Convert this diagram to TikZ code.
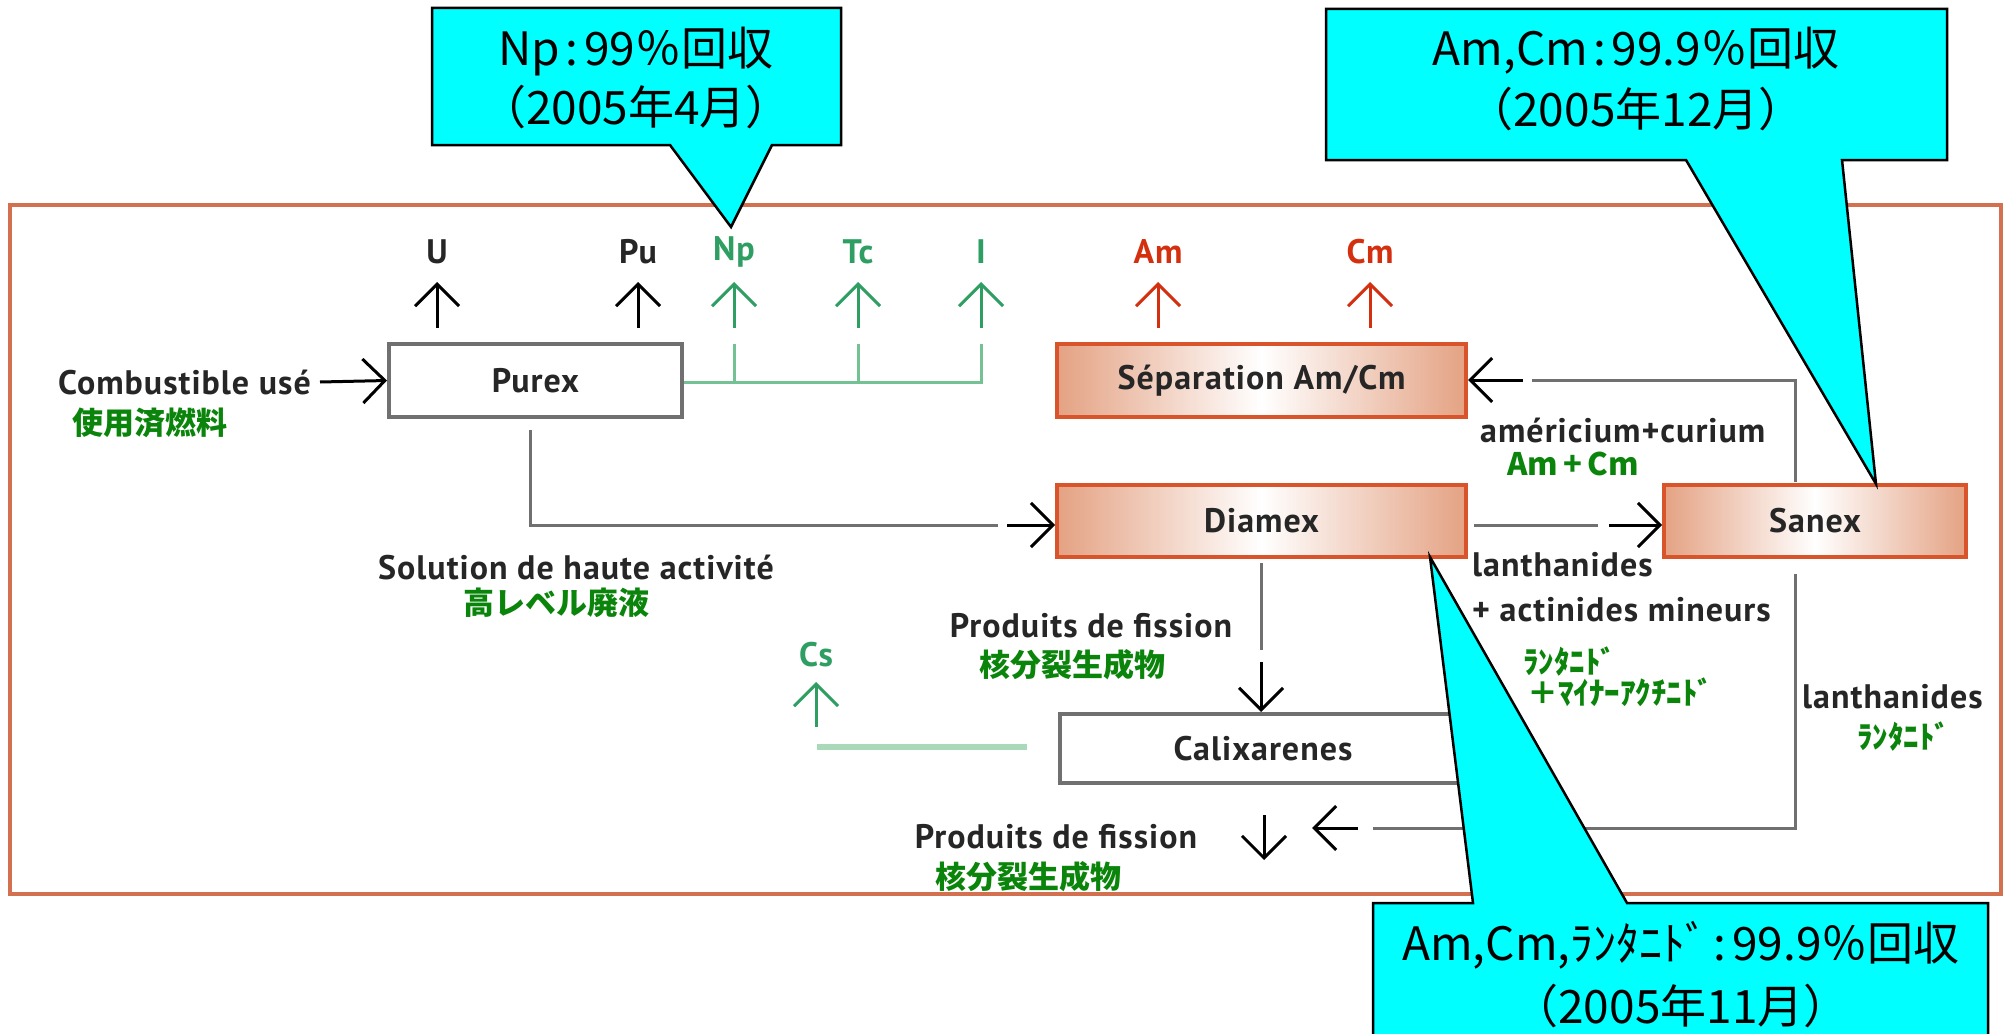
\documentclass[tikz,border=0pt]{standalone}
\usepackage{fontspec}
\setmainfont{PT Sans}
\newfontfamily\lblf{PT Sans}[LetterSpace=3]
\newfontfamily\jp{Noto Sans CJK JP}
\usetikzlibrary{arrows.meta}
\definecolor{frameC}{HTML}{D2704F}
\definecolor{boxO}{HTML}{D9532B}
\definecolor{salmonC}{HTML}{E4A283}
\definecolor{grayL}{HTML}{707070}
\definecolor{jgreen}{HTML}{0A840A}
\definecolor{lgreen}{HTML}{2E9E62}
\definecolor{pgreen}{HTML}{74C294}
\definecolor{cline}{HTML}{A9D9B9}
\definecolor{redC}{HTML}{D4300F}
\definecolor{cyanC}{HTML}{00FFFF}
\begin{document}
\begin{tikzpicture}[x=1pt,y=-1pt,
  lbl/.style={font=\lblf\bfseries\fontsize{34}{40}\selectfont, text=black!85, inner sep=0pt},
  jlbl/.style={font=\jp\bfseries\fontsize{31}{36}\selectfont, text=jgreen, inner sep=0pt},
  clbl/.style={font=\jp\fontsize{46}{52}\selectfont, inner sep=0pt},
  gbox/.style={draw=grayL, line width=4pt, fill=white, inner sep=0pt, text=black!85, font=\lblf\bfseries\fontsize{34}{40}\selectfont},
  obox/.style={draw=boxO, line width=4pt, left color=salmonC, right color=salmonC, middle color=white, inner sep=0pt, text=black!85, font=\lblf\bfseries\fontsize{34}{40}\selectfont},
  flow/.style={draw=grayL, line width=3pt},
  arr/.style={line width=3pt, -{Straight Barb[length=22pt,width=44pt]}},
  call/.style={draw=black, line width=2.5pt, fill=cyanC, line join=miter}]
\useasboundingbox (0,0) rectangle (2009,1033);
\fill[white] (0,0) rectangle (2009,1033);
% frame
\draw[frameC, line width=4pt] (10,205) rectangle (2001,894);

% boxes
\node[gbox, minimum width=293pt, minimum height=73pt] (purex) at (535.5,380.5) {Purex};
\node[obox, minimum width=409pt, minimum height=73pt] (sep) at (1261.5,380.5) {Séparation Am/Cm};
\node[obox, minimum width=409pt, minimum height=72pt] (diamex) at (1261.5,521) {Diamex};
\node[obox, minimum width=302pt, minimum height=72pt] (sanex) at (1815,521) {Sanex};
\node[gbox, minimum width=406pt, minimum height=69pt] (calix) at (1263,748.5) {Calixarenes};

% top labels
\node[lbl] (lU) at (437,252) {U};
\node[lbl] (lPu) at (638,252) {Pu};
\node[lbl, text=lgreen] (lNp) at (734,252) {Np};
\node[lbl, text=lgreen] (lTc) at (858,252) {Tc};
\node[lbl, text=lgreen] (lI) at (981,252) {I};
\node[lbl, text=redC] (lAm) at (1158,252) {Am};
\node[lbl, text=redC] (lCm) at (1370,252) {Cm};

% up arrows
\draw[arr] (437,328) -- (437,282);
\draw[arr] (638,328) -- (638,282);
\draw[arr, lgreen] (734,328) -- (734,282);
\draw[arr, lgreen] (858,328) -- (858,282);
\draw[arr, lgreen] (981,328) -- (981,282);
\draw[arr, redC] (1158,328) -- (1158,282);
\draw[arr, redC] (1370,328) -- (1370,282);

% green branch from Purex
\coordinate (gEnd) at (981,382);
\draw[pgreen, line width=3pt] (purex.east |- gEnd) -- (gEnd) -- (981,344);
\draw[pgreen, line width=3pt] (734,382) -- (734,344);
\draw[pgreen, line width=3pt] (858,382) -- (858,344);

% Combustible usé
\node[lbl, anchor=east] (comb) at (311,382) {Combustible usé};
\node[jlbl] (combj) at (150,423) {使用済燃料};
\draw[arr] (comb.east) ++(9,0) coordinate (cA) -- (purex.west);

% Purex -> Diamex
\coordinate (pd1) at (530,430);
\coordinate (pd2) at (998,525);
\coordinate (pd3) at (1007,525);
\draw[flow] (pd1) |- (pd2);
\draw[arr] (pd3) -- (diamex.west |- pd3);
\node[lbl] (sol) at (576,567) {Solution de haute activité};
\node[jlbl] (solj) at (556,603) {高レベル廃液};

% Diamex -> Sanex
\coordinate (ds1) at (1474,525);
\coordinate (ds2) at (1598,525);
\coordinate (ds3) at (1609,525);
\draw[flow] (ds1) -- (ds2);
\draw[arr] (ds3) -- (sanex.west |- ds3);
\node[lbl, anchor=west] (lan1) at (1472,565) {lanthanides};
\node[lbl, anchor=west] (lan2) at (1472,610) {+ actinides mineurs};
\node[jlbl, anchor=west] (lanj1) at (1523,662) {ﾗﾝﾀﾆﾄﾞ};
\node[jlbl, anchor=west] (lanj2) at (1527,692) {＋ﾏｲﾅｰｱｸﾁﾆﾄﾞ};

% Sanex -> Separation
\coordinate (ss1) at (1795,482);
\coordinate (ss2) at (1532,380);
\coordinate (ss3) at (1523,380);
\draw[flow] (ss1) |- (ss2);
\draw[arr] (ss3) -- (sep.east |- ss3);
\node[lbl, anchor=west] (amcu) at (1480,430) {américium+curium};
\node[jlbl] (amcuj) at (1573,464) {Am\,+\,Cm};

% Sanex -> down
\coordinate (sd1) at (1795,574);
\coordinate (sd2) at (1373,828);
\coordinate (sd3) at (1358,828);
\coordinate (sd4) at (1312,828);
\draw[flow] (sd1) |- (sd2);
\draw[arr] (sd3) -- (sd4);
\node[lbl, anchor=west] (lan3) at (1802,697) {lanthanides};
\node[jlbl, anchor=west] (lanj3) at (1857,737) {ﾗﾝﾀﾆﾄﾞ};

% Diamex -> Calixarenes
\coordinate (dc1) at (1261,563);
\coordinate (dc2) at (1261,650);
\coordinate (dc3) at (1261,662);
\draw[flow] (dc1) -- (dc2);
\draw[arr] (dc3) -- (calix.north -| dc3);
\node[lbl] (pf1) at (1091,626) {Produits de fission};
\node[jlbl] (pf1j) at (1072,665) {核分裂生成物};

% Cs
\coordinate (cs1) at (1027,747);
\coordinate (cs2) at (817,747);
\draw[cline, line width=6pt] (cs1) -- (cs2);
\draw[arr, lgreen] (816,727) -- (816,682);
\node[lbl, text=lgreen] (lCs) at (816,655) {Cs};

% lower products
\coordinate (lp1) at (1264,815);
\coordinate (lp2) at (1264,860);
\draw[arr] (lp1) -- (lp2);
\node[lbl] (pf2) at (1056,837) {Produits de fission};
\node[jlbl] (pf2j) at (1028,877) {核分裂生成物};

% callouts
\draw[call] (432,8) -- (841,8) -- (841,145) -- (772,145) -- (731,227) -- (670,145) -- (432,145) -- cycle;
\node[clbl] (c1a) at (636,52) {Np\hspace{0.12em}:\hspace{0.12em}99％回収};
\node[clbl] (c1b) at (636,107) {（2005年4月）};

\draw[call] (1326,9) -- (1947,9) -- (1947,160) -- (1842,160) -- (1876,484) -- (1686,160) -- (1326,160) -- cycle;
\node[clbl] (c2a) at (1636,51) {Am,Cm\hspace{0.12em}:\hspace{0.12em}99.9％回収};
\node[clbl] (c2b) at (1636,109) {（2005年12月）};

\draw[call] (1373,903) -- (1473,903) -- (1430,557) -- (1627,903) -- (1988,903) -- (1988,1045) -- (1373,1045) -- cycle;
\node[clbl] (c3a) at (1681,945) {Am,Cm,ﾗﾝﾀﾆﾄﾞ\hspace{0.12em}:\hspace{0.12em}99.9％回収};
\node[clbl] (c3b) at (1681,1006) {（2005年11月）};
\end{tikzpicture}
\end{document}
